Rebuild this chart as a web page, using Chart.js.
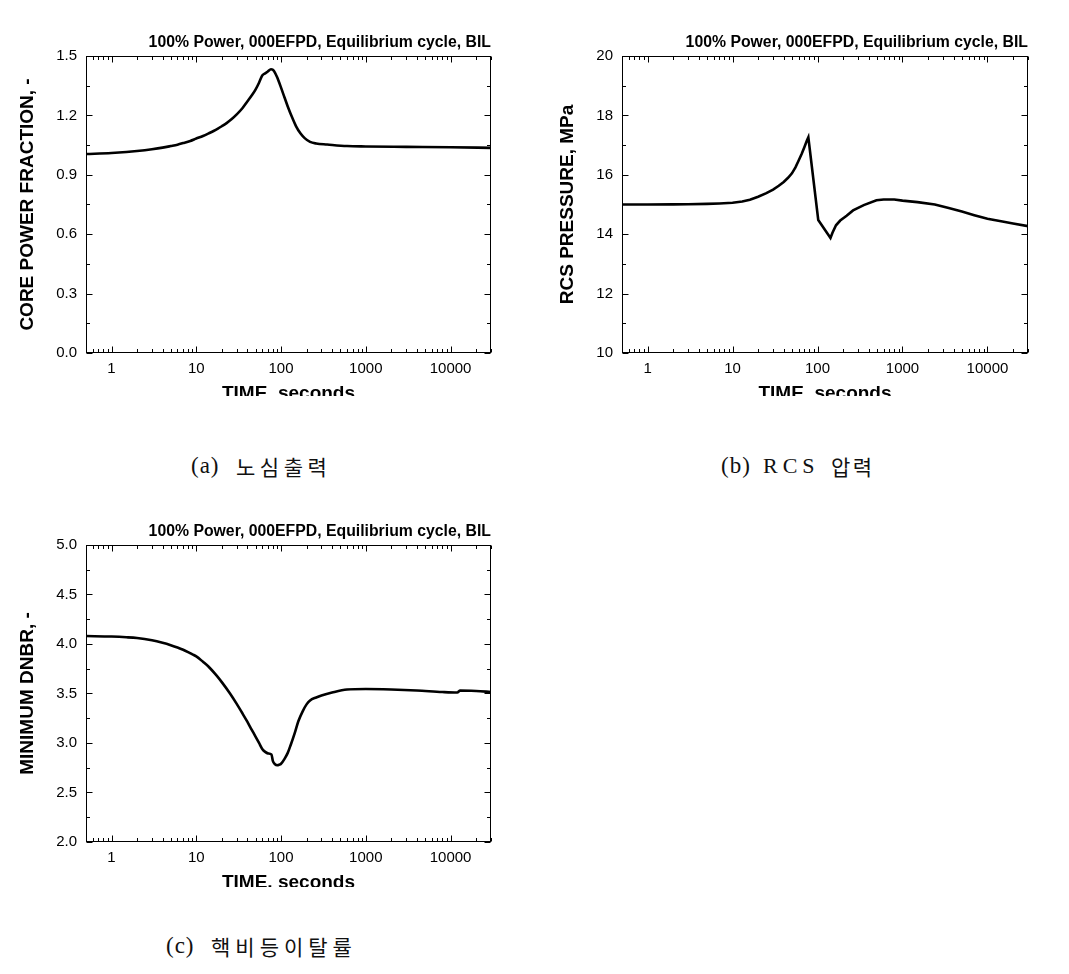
<!DOCTYPE html>
<html>
<head>
<meta charset="utf-8">
<script src="https://cdn.jsdelivr.net/npm/chart.js@4.4.1/dist/chart.umd.min.js"></script>
<style>
  body { margin: 0; background: #fff; width: 1069px; height: 974px; position: relative; overflow: hidden; }
  .box { position: absolute; overflow: hidden; }
  .box canvas { display: block; }
  .lat, .kr { position: absolute; line-height: 24px; color: #111; white-space: nowrap; }
  .lat { font-family: "Liberation Serif", serif; font-size: 23px; letter-spacing: 1px; }
  .kr { font-family: "Noto Sans CJK KR", sans-serif; font-size: 21px; letter-spacing: 4.5px; }
</style>
</head>
<body>
<div class="box" style="left:0;top:28px;width:500px;height:368px"><canvas id="chartA" width="500" height="400"></canvas></div>
<div class="box" style="left:540px;top:28px;width:497px;height:368px"><canvas id="chartB" width="497" height="400"></canvas></div>
<div class="box" style="left:0;top:517px;width:500px;height:370px"><canvas id="chartC" width="500" height="400"></canvas></div>

<span class="lat" style="left:191px;top:454px">(a)</span>
<span class="kr" style="left:236px;top:454px">노심출력</span>
<span class="lat" style="left:721px;top:454px">(b)</span>
<span class="lat" style="left:763px;top:454px;font-size:22px;letter-spacing:5px">RCS</span>
<span class="kr" style="left:831px;top:454px;letter-spacing:2.5px">압력</span>
<span class="lat" style="left:166px;top:934px">(c)</span>
<span class="kr" style="left:211px;top:934px;letter-spacing:5px">핵비등이탈률</span>

<script>
const caseTitle = "100% Power, 000EFPD, Equilibrium cycle, BIL";
const timeTitle = "TIME, seconds";

// tick values
const timeTicks = [1, 10, 100, 1000, 10000];
const timeMinor = [];
[0.1, 1, 10, 100, 1000, 10000].forEach(d => {
  for (let k = 2; k <= 9; k++) {
    const v = k * d;
    if (v > 0.5 && v <= 30000) timeMinor.push(v);
  }
});
const powerTicks = [0.0, 0.3, 0.6, 0.9, 1.2, 1.5];
const powerMinor = [0.15, 0.45, 0.75, 1.05, 1.35];
const pressureTicks = [10, 12, 14, 16, 18, 20];
const pressureMinor = [11, 13, 15, 17, 19];
const dnbrTicks = [2.0, 2.5, 3.0, 3.5, 4.0, 4.5, 5.0];
const dnbrMinor = [2.25, 2.75, 3.25, 3.75, 4.25, 4.75];

// (a) core power fraction
const timeA = [0.5, 1, 1.5, 2, 3, 4, 5, 6, 7, 8.5, 10, 12, 14, 16, 18, 20, 23, 26, 30, 35, 40, 45, 50, 55, 60, 65, 70, 76, 80, 85, 90, 100, 110, 120, 135, 150, 170, 190, 220, 260, 350, 600, 1000, 3000, 10000, 30000];
const powerA = [1.005, 1.010, 1.015, 1.020, 1.029, 1.037, 1.045, 1.052, 1.060, 1.071, 1.083, 1.096, 1.109, 1.121, 1.133, 1.145, 1.162, 1.180, 1.205, 1.236, 1.270, 1.300, 1.330, 1.365, 1.401, 1.412, 1.422, 1.433, 1.430, 1.415, 1.392, 1.340, 1.290, 1.245, 1.190, 1.146, 1.108, 1.085, 1.066, 1.058, 1.053, 1.045, 1.043, 1.041, 1.039, 1.036];

// (b) RCS pressure
const timeB = [0.5, 1, 2, 3, 5, 7, 10, 13, 16, 20, 25, 30, 35, 40, 45, 50, 55, 60, 65, 70, 75, 78, 102, 142, 150, 165, 185, 220, 262, 350, 494, 600, 800, 1000, 1500, 2400, 3500, 5000, 7000, 10000, 15000, 20000, 30000];
const pressureB = [15.0, 15.0, 15.005, 15.01, 15.02, 15.035, 15.06, 15.1, 15.16, 15.26, 15.38, 15.5, 15.63, 15.76, 15.9, 16.05, 16.25, 16.48, 16.7, 16.93, 17.15, 17.26, 14.48, 13.87, 14.05, 14.3, 14.46, 14.62, 14.8, 14.98, 15.14, 15.17, 15.17, 15.13, 15.08, 15.0, 14.88, 14.76, 14.64, 14.52, 14.43, 14.36, 14.27];

// (c) minimum DNBR
const timeC = [0.5, 1, 1.5, 2, 3, 4, 5, 6, 7, 8, 9, 10, 12, 14, 17, 20, 25, 30, 35, 40, 45, 50, 55, 60, 65, 70, 77, 80, 85, 90, 95, 100, 110, 120, 130, 145, 160, 180, 200, 220, 260, 300, 400, 600, 1000, 2000, 4000, 8000, 12000, 13000, 20000, 30000];
const dnbrC = [4.08, 4.075, 4.068, 4.06, 4.037, 4.012, 3.988, 3.965, 3.942, 3.918, 3.895, 3.875, 3.82, 3.77, 3.69, 3.615, 3.5, 3.395, 3.3, 3.215, 3.135, 3.065, 3.0, 2.94, 2.91, 2.895, 2.885, 2.82, 2.785, 2.775, 2.78, 2.79, 2.84, 2.9, 2.98, 3.1, 3.22, 3.32, 3.39, 3.43, 3.46, 3.48, 3.51, 3.54, 3.545, 3.54, 3.53, 3.515, 3.51, 3.53, 3.525, 3.515];

const fontFam = '"Liberation Sans", Arial, sans-serif';

// box around the plot with inward ticks on all four sides
const frameTicks = {
  id: 'frameTicks',
  afterDatasetsDraw(chart, args, opts) {
    const { ctx, chartArea: a, scales: { x, y } } = chart;
    ctx.save();
    ctx.strokeStyle = '#000';
    ctx.lineWidth = 1;
    const L = Math.round(a.left) + 0.5, R = Math.round(a.right) - 0.5;
    const T = Math.round(a.top) + 0.5, B = Math.round(a.bottom) - 0.5;
    ctx.strokeRect(L, T, R - L, B - T);
    ctx.beginPath();
    const xt = (v, len) => {
      const p = Math.round(x.getPixelForValue(v)) + 0.5;
      ctx.moveTo(p, B); ctx.lineTo(p, B - len);
      ctx.moveTo(p, T); ctx.lineTo(p, T + len);
    };
    const yt = (v, len) => {
      const p = Math.round(y.getPixelForValue(v)) + 0.5;
      ctx.moveTo(L, p); ctx.lineTo(L + len, p);
      ctx.moveTo(R, p); ctx.lineTo(R - len, p);
    };
    timeTicks.forEach(v => xt(v, 6));
    timeMinor.forEach(v => xt(v, 3.5));
    opts.yMajor.forEach(v => yt(v, 6));
    opts.yMinor.forEach(v => yt(v, 3.5));
    ctx.stroke();
    ctx.restore();
  }
};

function makeChart(id, times, values, yTitle, yMin, yMax, yMajor, yMinor, digits, yWidth, smooth) {
  return new Chart(document.getElementById(id), {
    type: 'line',
    data: {
      datasets: [{
        data: times.map((t, i) => ({ x: t, y: values[i] })),
        borderColor: '#000',
        borderWidth: 2.6,
        pointRadius: 0,
        tension: smooth ? 0.3 : 0,
        cubicInterpolationMode: smooth ? 'monotone' : 'default',
        fill: false
      }]
    },
    options: {
      responsive: false,
      animation: false,
      devicePixelRatio: 1,
      layout: { padding: { left: 0, right: 9, top: 0, bottom: 0 } },
      plugins: {
        legend: { display: false },
        tooltip: { enabled: false },
        title: {
          display: true,
          text: caseTitle,
          align: 'end',
          color: '#000',
          font: { family: fontFam, size: 15.8, weight: 'bold' },
          padding: { top: 4.8, bottom: 4.2 }
        },
        frameTicks: { yMajor: yMajor, yMinor: yMinor }
      },
      scales: {
        x: {
          type: 'logarithmic',
          min: 0.5,
          max: 30000,
          afterBuildTicks: s => { s.ticks = timeTicks.map(v => ({ value: v })); },
          afterFit: s => { s.height = 75; },
          grid: { display: false, drawTicks: false },
          border: { display: false },
          ticks: {
            autoSkip: false, maxRotation: 0, padding: 7, color: '#000',
            font: { family: fontFam, size: 15 },
            callback: v => String(v)
          },
          title: {
            display: true, text: timeTitle, color: '#000',
            font: { family: fontFam, size: 19, weight: 'bold' },
            padding: { top: 0, bottom: 22.6 }
          }
        },
        y: {
          min: yMin,
          max: yMax,
          afterBuildTicks: s => { s.ticks = yMajor.map(v => ({ value: v })); },
          afterFit: s => { s.width = yWidth; },
          grid: { display: false, drawTicks: false },
          border: { display: false },
          ticks: {
            autoSkip: false, padding: 9, color: '#000',
            font: { family: fontFam, size: 15 },
            callback: v => v.toFixed(digits)
          },
          title: {
            display: true, text: yTitle, color: '#000',
            font: { family: fontFam, size: 19, weight: 'bold' },
            padding: { top: 16, bottom: 0 }
          }
        }
      }
    },
    plugins: [frameTicks]
  });
}

makeChart('chartA', timeA, powerA, 'CORE POWER FRACTION, -', 0, 1.5, powerTicks, powerMinor, 1, 86, true);
makeChart('chartB', timeB, pressureB, 'RCS PRESSURE, MPa', 10, 20, pressureTicks, pressureMinor, 0, 82, false);
makeChart('chartC', timeC, dnbrC, 'MINIMUM DNBR, -', 2, 5, dnbrTicks, dnbrMinor, 1, 86, true);
</script>
</body>
</html>
